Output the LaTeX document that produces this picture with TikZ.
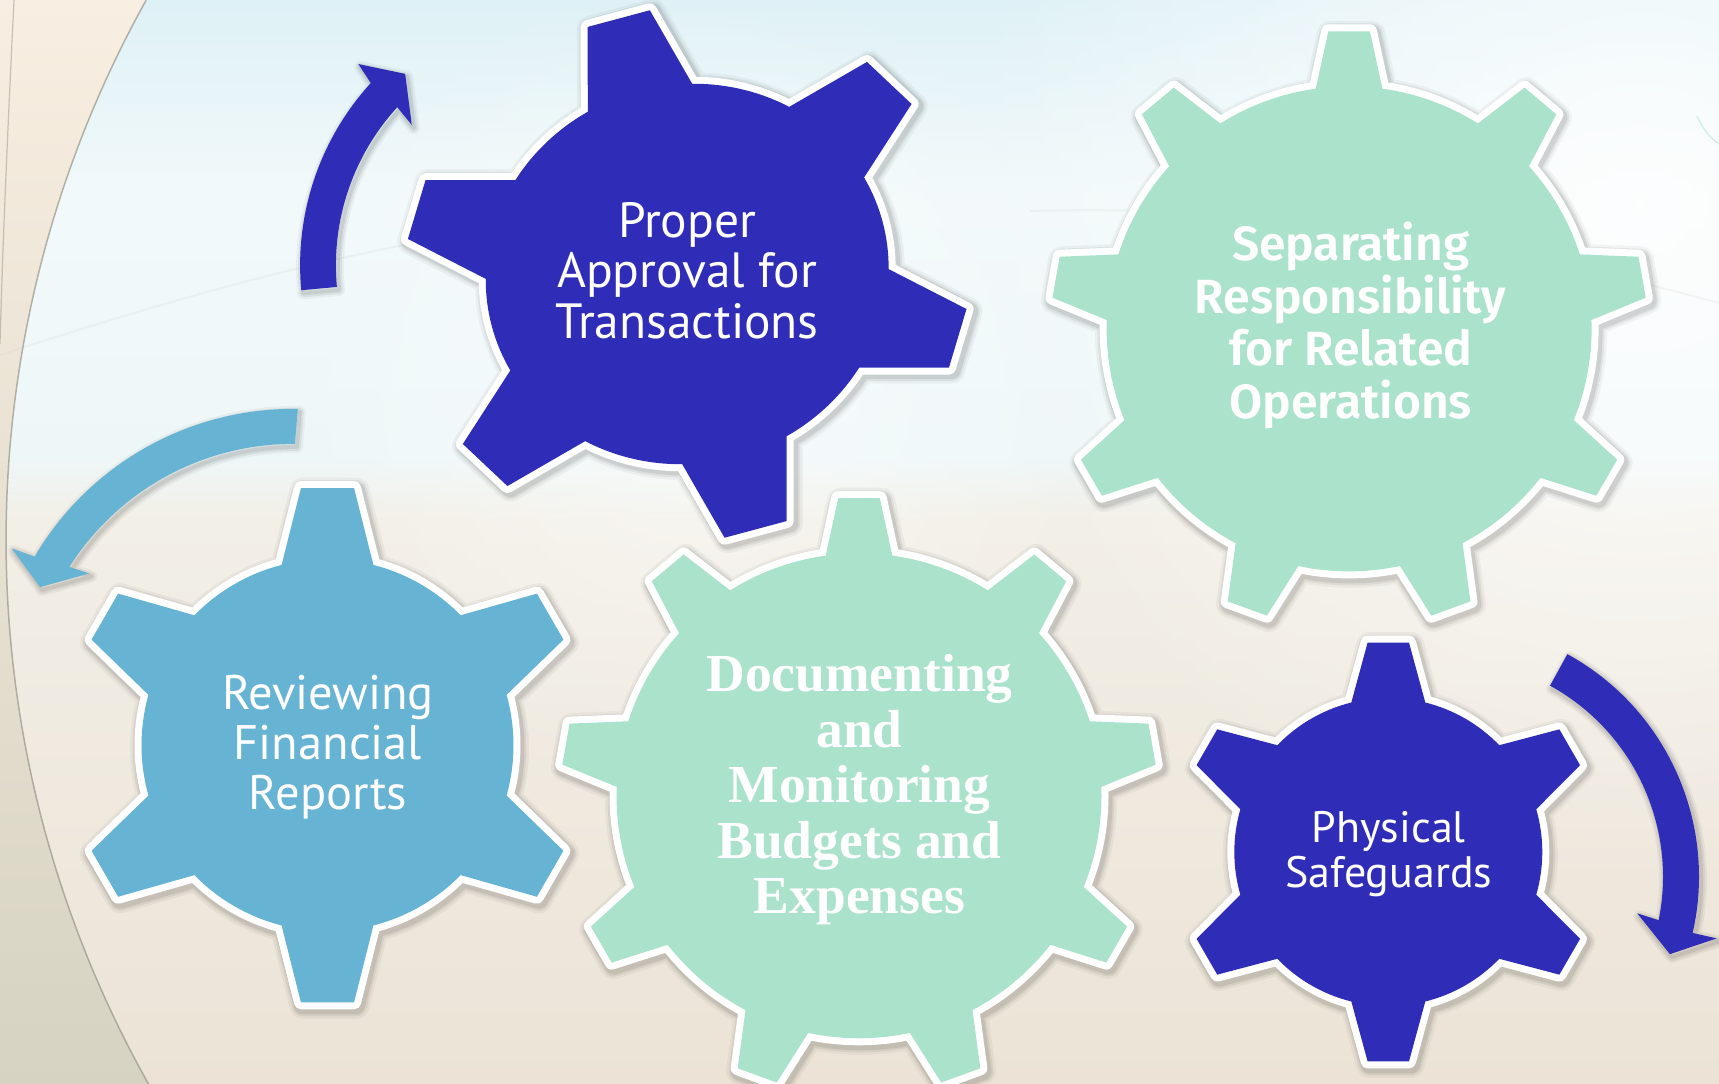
\documentclass[tikz,border=0pt]{standalone}
\usepackage{fontspec}
\usetikzlibrary{fadings}
\newfontfamily\gearsans{PT Sans}
\newfontfamily\gearbold{Fira Sans}[BoldFont={* SemiBold}]
\newfontfamily\gearserif{Liberation Serif}

\definecolor{cogblue}{RGB}{47,45,183}
\definecolor{cogmint}{RGB}{171,226,204}
\definecolor{cogsky}{RGB}{103,179,212}
\definecolor{bgtop}{RGB}{222,241,246}
\definecolor{bgupper}{RGB}{242,249,250}
\definecolor{bgcyan}{RGB}{238,247,248}
\definecolor{bgsand}{RGB}{242,239,231}
\definecolor{bgbottom}{RGB}{236,227,214}
\definecolor{crestop}{RGB}{248,238,225}
\definecolor{cresmid}{RGB}{195,229,238}
\definecolor{cresbot}{RGB}{214,211,194}
\definecolor{arcgray}{RGB}{150,150,140}

% backdrop: sand below, pale cyan above
\pgfdeclareverticalshading{backdrop}{100bp}{color(0bp)=(bgbottom); color(25bp)=(bgbottom);
  color(51bp)=(bgsand); color(54bp)=(bgcyan); color(66bp)=(bgupper); color(75bp)=(bgtop); color(100bp)=(bgtop)}
\tikzfading[name=glowfade, inner color=transparent!0, outer color=transparent!100]

% gear outline: teeth, outer radius, root radius, half-angle at tip, half-angle at root, rotation
\newcommand\cog[6]{({#6-#5}:#3)
  \foreach \k in {1,...,#1}{
    -- ({#6+(\k-1)*360/#1-#4}:#2)
    -- ({#6+(\k-1)*360/#1+#4}:#2)
    -- ({#6+(\k-1)*360/#1+#5}:#3)
    arc[start angle={#6+(\k-1)*360/#1+#5}, end angle={#6+\k*360/#1-#5}, radius=#3]
  } -- cycle}

% soft drop shadow built from stacked translucent strokes
\newcommand\softshadow[2]{%
  \begin{scope}[shift={(2,-3)}]
    \foreach \w/\o in {#2}{\draw[black, opacity=\o, line width=\w, line join=round] #1;}
  \end{scope}}

% a gear with white rim and shadow
\newcommand\drawcog[3]{%
  \begin{scope}[#1]
    \softshadow{#2}{27/0.04,22/0.06,18/0.08}
    \draw[ringline, fill=white] #2;
    \fill[#3] #2;
  \end{scope}}

% curved arrows (drawn around their own centres)
\def\arrowA{(185.3:270.3) arc[start angle=185.3, end angle=137.6, radius=270.3]
  -- (136.5:292.4) -- (130.8:252.9) -- (138.5:211.8) -- (137.6:234.5)
  arc[start angle=137.6, end angle=185.3, radius=234.5] -- cycle}
\def\arrowB{(89.1:300) arc[start angle=89.1, end angle=149.5, radius=300]
  -- (150.3:324) -- (154.3:280.8) -- (146.4:244.8) -- (147.6:265)
  arc[start angle=147.6, end angle=89.6, radius=265] -- cycle}
\def\arrowC{(61.2:254) arc[start angle=61.2, end angle=-12.8, radius=254]
  -- (-12.8:278.6) -- (-19:237.9) -- (-10.8:195.8) -- (-11.5:218)
  arc[start angle=-11.5, end angle=61.2, radius=218] -- cycle}

\begin{document}
\begin{tikzpicture}[x=1pt, y=1pt,
  ringline/.style={white, line width=14, line join=round},
  cogtext/.style={text=white, inner sep=0, anchor=base},
  wisp/.style={gray!40, line width=2, opacity=0.18}]
\useasboundingbox (0,0) rectangle (1719,1084);
\clip (0,0) rectangle (1719,1084);

% background
\shade[shading=backdrop] (0,0) rectangle (1719,1084);
\fill[white, path fading=glowfade, fill opacity=0.85] (1640,880) circle (680);
\fill[white, path fading=glowfade, fill opacity=0.5] (700,700) circle (420);
\shade[top color=crestop, middle color=cresmid, bottom color=cresbot]
  (0,1084) -- ([shift={(1116,544)}]150.9:1110) arc[start angle=150.9, end angle=209.4, radius=1110] -- (0,0) -- cycle;
\draw[arcgray, line width=1.5, opacity=0.7]
  ([shift={(1116,544)}]150.9:1110) arc[start angle=150.9, end angle=209.4, radius=1110];
\draw[arcgray, line width=1.2, opacity=0.5] (14,1084) .. controls (8,960) and (3,850) .. (0,740);
\draw[wisp] (0,729) .. controls (200,794) and (350,834) .. (520,859);
\draw[wisp] (1030,873) .. controls (1300,880) and (1500,840) .. (1719,781);
\draw[cogmint!80, line width=1.2, opacity=0.7] (1697,968) .. controls (1703,955) and (1710,946) .. (1719,940);

% arrows
\begin{scope}[shift={(570.4,818.7)}]
  \softshadow{\arrowA}{12/0.04,8/0.06,4/0.08}
  \fill[cogblue] \arrowA;
\end{scope}
\begin{scope}[shift={(293.1,375.1)}]
  \softshadow{\arrowB}{12/0.04,8/0.06,4/0.08}
  \fill[cogsky] \arrowB;
\end{scope}
\begin{scope}[shift={(1445,207.3)}]
  \softshadow{\arrowC}{12/0.04,8/0.06,4/0.08}
  \fill[cogblue] \arrowC;
\end{scope}

% gears
\drawcog{shift={(687.2,810)}, rotate=15, xscale=1.032, yscale=0.966}{\cog{6}{275.5}{196}{6.5}{15.5}{90}}{cogblue}
\drawcog{shift={(1349.1,755.1)}}{\cog{9}{298.3}{242.5}{4.0}{7.9}{90}}{cogmint}
\drawcog{shift={(327.5,338.8)}}{\cog{6}{258.5}{186}{5.9}{14.3}{90}}{cogsky}
\drawcog{shift={(859,288.2)}}{\cog{9}{298.3}{242.5}{4.0}{7.9}{90}}{cogmint}
\drawcog{shift={(1388.3,232)}}{\cog{6}{210.5}{154}{5.64}{13.9}{90}}{cogblue}

% labels
\node[cogtext, font=\gearsans\fontsize{49.5}{50.5}\selectfont] (approval) at (687.2,846.5)
  {\begin{tabular}[t]{@{}c@{}}Proper\\Approval for\\Transactions\end{tabular}};
\node[cogtext, font=\gearbold\bfseries\fontsize{48}{50}\selectfont] (separating) at (1350.7,823.6)
  {\begin{tabular}[t]{@{}c@{}}Separating\\Responsibility\\for Related\\Operations\end{tabular}};
\node[cogtext, font=\gearsans\fontsize{48.5}{50}\selectfont] (reviewing) at (328,374)
  {\begin{tabular}[t]{@{}c@{}}Reviewing\\Financial\\Reports\end{tabular}};
\node[cogtext, font=\gearserif\bfseries\fontsize{53.5}{55.4}\selectfont] (documenting) at (859.5,392.1)
  {\begin{tabular}[t]{@{}c@{}}Documenting\\and\\Monitoring\\Budgets and\\Expenses\end{tabular}};
\node[cogtext, font=\gearsans\fontsize{44}{44}\selectfont] (physical) at (1388.7,241.3)
  {\begin{tabular}[t]{@{}c@{}}Physical\\Safeguards\end{tabular}};
\end{tikzpicture}
\end{document}
